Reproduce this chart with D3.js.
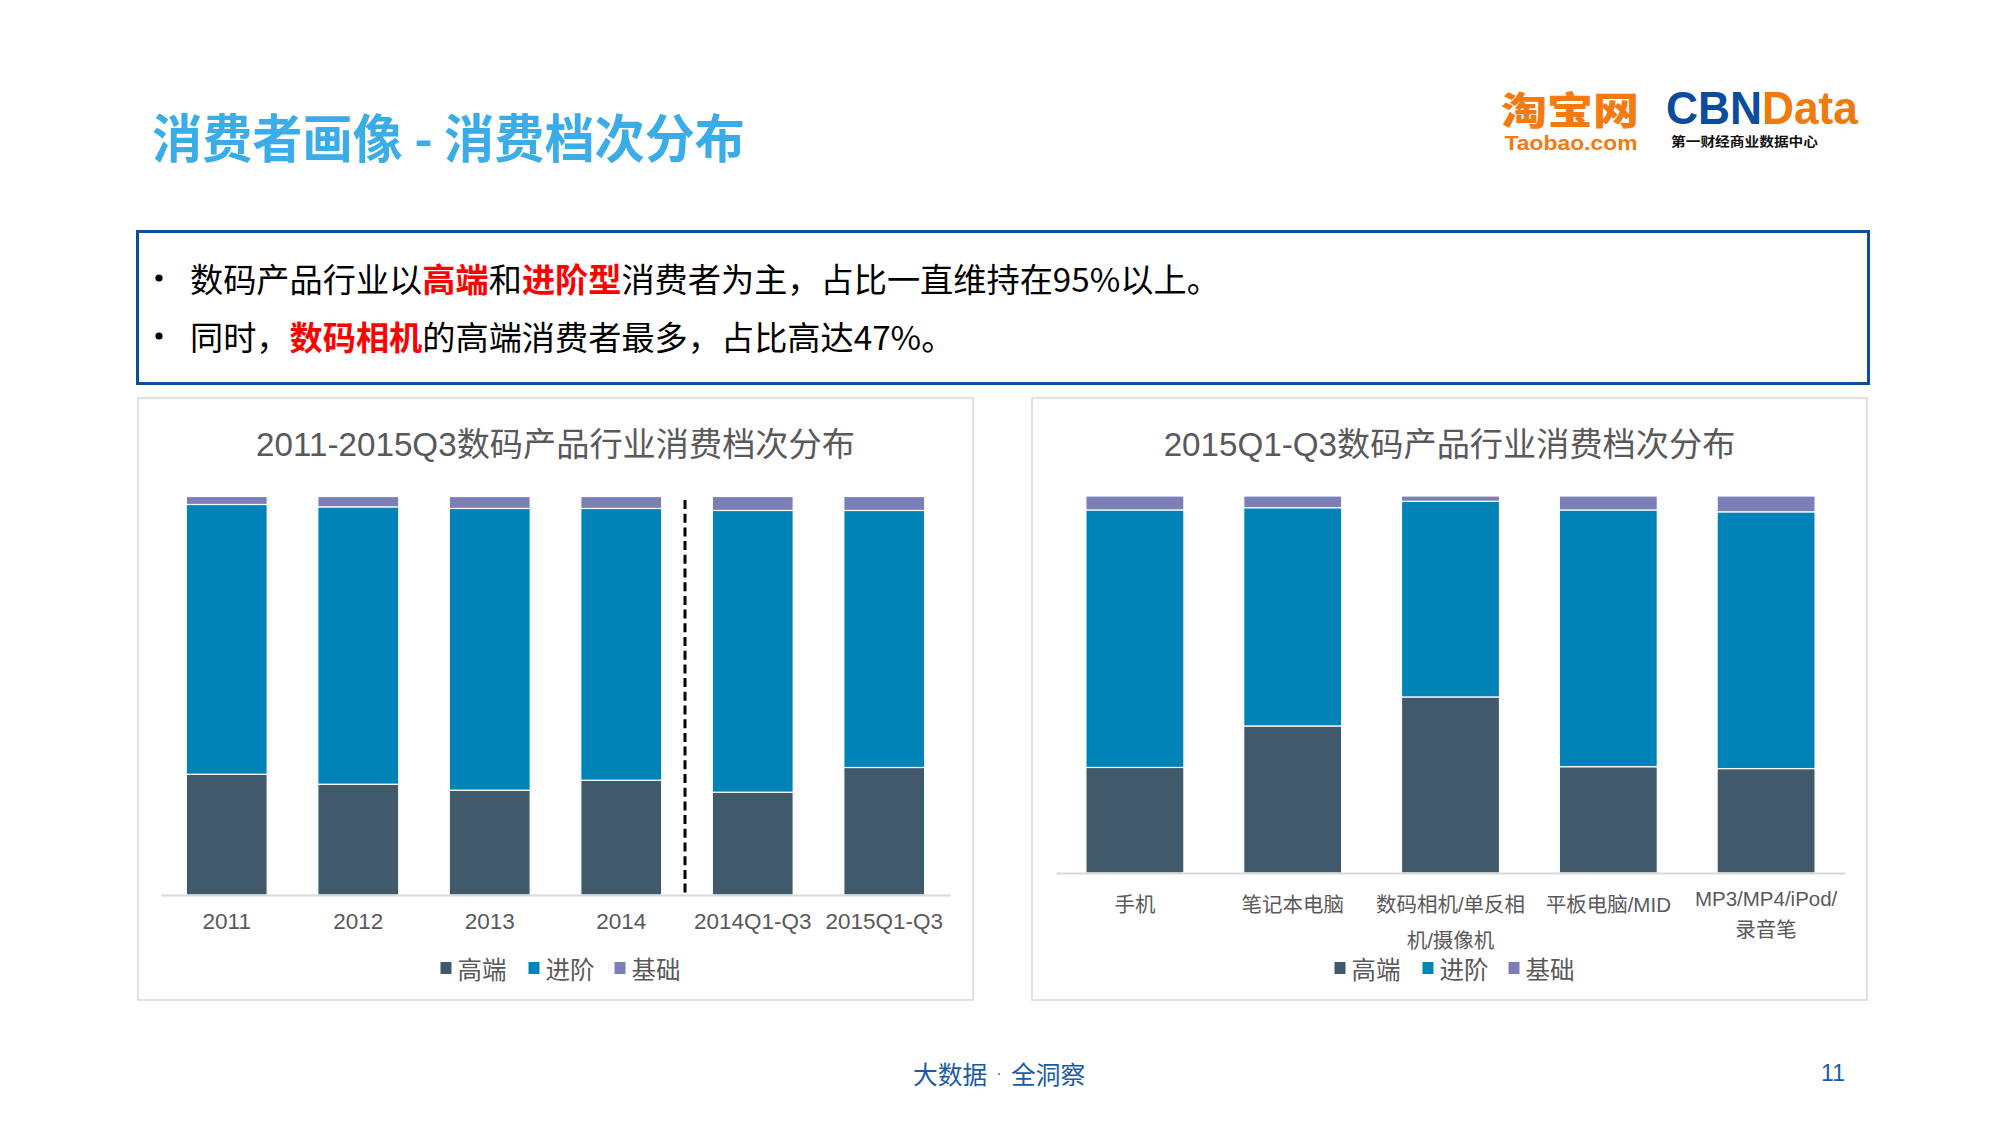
<!DOCTYPE html>
<html>
<head>
<meta charset="utf-8">
<script src="https://cdn.jsdelivr.net/npm/d3@7/dist/d3.min.js"></script>
<style>
  html, body { margin: 0; padding: 0; background: #fff; }
  svg { display: block; }
  text { font-family: "Liberation Sans", "Noto Sans CJK SC", sans-serif; }
</style>
</head>
<body>
<script>
// ---------- DATA ----------
const seriesNames = ["高端", "进阶", "基础"];
const seriesColors = ["#415a6b", "#0083b7", "#7b7fb5"];

const leftTitle = "2011-2015Q3数码产品行业消费档次分布";
const leftCategories = ["2011", "2012", "2013", "2014", "2014Q1-Q3", "2015Q1-Q3"];
const leftHigh = [30.3, 27.8, 26.3, 28.8, 25.8, 32.0];
const leftAdvanced = [67.7, 69.6, 70.7, 68.2, 70.7, 64.5];
const leftBasic = [2.0, 2.6, 3.0, 3.0, 3.5, 3.5];

const rightTitle = "2015Q1-Q3数码产品行业消费档次分布";
const rightCategories = ["手机", "笔记本电脑", "数码相机/单反相机/摄像机", "平板电脑/MID", "MP3/MP4/iPod/录音笔"];
const rightTickLines = [["手机"], ["笔记本电脑"], ["数码相机/单反相", "机/摄像机"], ["平板电脑/MID"], ["MP3/MP4/iPod/", "录音笔"]];
const rightHigh = [28.0, 39.0, 46.7, 28.2, 27.7];
const rightAdvanced = [68.3, 57.9, 51.9, 68.1, 68.1];
const rightBasic = [3.7, 3.1, 1.4, 3.7, 4.2];

const pageTitle = "消费者画像 - 消费档次分布";
const bullet1 = [["数码产品行业以", false], ["高端", true], ["和", false], ["进阶型", true], ["消费者为主，占比一直维持在95%以上。", false]];
const bullet2 = [["同时，", false], ["数码相机", true], ["的高端消费者最多，占比高达47%。", false]];
const footerParts = ["大数据", "·", "全洞察"];
const pageNumber = "11";

// ---------- SVG ----------
const W = 2000, H = 1125;
const svg = d3.select("body").append("svg").attr("width", W).attr("height", H);
svg.append("rect").attr("width", W).attr("height", H).attr("fill", "#fff");

const CJK = "'Noto Sans CJK SC', sans-serif";

// Page title
svg.append("text")
  .attr("x", 152).attr("y", 135)
  .attr("dominant-baseline", "central")
  .style("font-family", CJK)
  .style("font-weight", "bold")
  .style("font-size", "52px")
  .attr("fill", "#3aade9")
  .attr("textLength", 593).attr("lengthAdjust", "spacingAndGlyphs")
  .text(pageTitle);

// Logos
const logo = svg.append("g");
logo.append("text").attr("x", 1570).attr("y", 107).attr("text-anchor", "middle")
  .attr("dominant-baseline", "central")
  .style("font-family", CJK).style("font-weight", "900").style("font-size", "38px")
  .attr("fill", "#f47a12").attr("textLength", 138).attr("lengthAdjust", "spacingAndGlyphs")
  .text("淘宝网");
logo.append("text").attr("x", 1571).attr("y", 142).attr("text-anchor", "middle")
  .attr("dominant-baseline", "central")
  .style("font-family", "'Liberation Sans', sans-serif").style("font-weight", "bold").style("font-size", "21px")
  .attr("fill", "#f47a12").attr("textLength", 133).attr("lengthAdjust", "spacingAndGlyphs")
  .text("Taobao.com");
const cbn = logo.append("text").attr("x", 1666).attr("y", 108)
  .attr("dominant-baseline", "central")
  .style("font-family", "'Liberation Sans', sans-serif").style("font-weight", "bold").style("font-size", "46px")
  .attr("textLength", 192).attr("lengthAdjust", "spacingAndGlyphs");
cbn.append("tspan").attr("fill", "#0b4c9c").text("CBN");
cbn.append("tspan").attr("fill", "#f07a0d").text("Data");
logo.append("text").attr("x", 1671).attr("y", 140)
  .attr("dominant-baseline", "central")
  .style("font-family", CJK).style("font-weight", "bold").style("font-size", "13px")
  .attr("fill", "#111").attr("textLength", 147).attr("lengthAdjust", "spacingAndGlyphs")
  .text("第一财经商业数据中心");

// Text box
svg.append("rect").attr("x", 137.5).attr("y", 231.5).attr("width", 1731).attr("height", 152)
  .attr("fill", "none").attr("stroke", "#0b4f9c").attr("stroke-width", 3);

function bulletLine(parts, y) {
  svg.append("circle").attr("cx", 159).attr("cy", y + 1).attr("r", 3.6).attr("fill", "#000");
  const t = svg.append("text").attr("x", 190).attr("y", y)
    .attr("dominant-baseline", "central")
    .style("font-family", CJK).style("font-size", "33.2px").attr("fill", "#000");
  parts.forEach(([s, hi]) => {
    t.append("tspan").attr("fill", hi ? "#ff0000" : "#000")
      .style("font-weight", hi ? "bold" : "normal").text(s);
  });
}
bulletLine(bullet1, 277);
bulletLine(bullet2, 335);

// ---------- CHART PANELS ----------
function drawPanel(opts) {
  const { px, py, pw, ph, title, categories, high, adv, basic, xRange, yBase, yTop, padInner } = opts;
  const g = svg.append("g");
  g.append("rect").attr("x", px).attr("y", py).attr("width", pw).attr("height", ph)
    .attr("fill", "#fff").attr("stroke", "#d9d9d9").attr("stroke-width", 1.5);
  const cx = px + pw / 2;
  g.append("text").attr("x", cx).attr("y", 444).attr("text-anchor", "middle")
    .attr("dominant-baseline", "central")
    .style("font-size", "33.2px").attr("fill", "#595959").text(title);

  const rows = categories.map((c, i) => ({ cat: c, "高端": high[i], "进阶": adv[i], "基础": basic[i] }));
  const layers = d3.stack().keys(seriesNames)(rows);

  const x = d3.scaleBand().domain(categories).range(xRange).paddingInner(padInner).paddingOuter(padInner / 2);
  const y = d3.scaleLinear().domain([0, 100]).range([yBase, yTop]);

  layers.forEach((layer, li) => {
    g.append("g").selectAll("rect").data(layer).join("rect")
      .attr("x", d => x(d.data.cat))
      .attr("width", x.bandwidth())
      .attr("y", d => y(d[1]))
      .attr("height", d => y(d[0]) - y(d[1]))
      .attr("fill", seriesColors[li])
      .attr("stroke", "#fff").attr("stroke-width", 1.2);
  });

  const axis = g.append("g").attr("transform", `translate(0,${yBase})`)
    .call(d3.axisBottom(x).tickSize(0).tickSizeOuter(0));
  axis.select(".domain").attr("stroke", "#d9d9d9").attr("stroke-width", 2);
  axis.selectAll(".tick text").remove();

  // legend
  const lg = g.append("g");
  const start = cx - 115;
  const offs = [0, 88, 174];
  seriesNames.forEach((s, i) => {
    lg.append("rect").attr("x", start + offs[i]).attr("y", 962).attr("width", 11).attr("height", 12)
      .attr("fill", seriesColors[i]);
    lg.append("text").attr("x", start + offs[i] + 17).attr("y", 968)
      .attr("dominant-baseline", "central")
      .style("font-family", CJK).style("font-size", "24.5px").attr("fill", "#595959").text(s);
  });
  return { g, x, y, axis };
}

const left = drawPanel({
  px: 138, py: 398, pw: 835, ph: 602, title: leftTitle,
  categories: leftCategories, high: leftHigh, adv: leftAdvanced, basic: leftBasic,
  xRange: [161, 950], yBase: 895, yTop: 496.5, padInner: 0.385
});
left.axis.selectAll(".tick").append("text")
  .attr("y", 26).attr("dominant-baseline", "central").attr("text-anchor", "middle")
  .style("font-size", "22.5px").attr("fill", "#595959")
  .text(d => d);

// dashed separator between annual and Q1-Q3 bars
const sepX = (left.x("2014") + left.x.bandwidth() + left.x("2014Q1-Q3")) / 2 - 2;
left.g.append("line").attr("x1", sepX).attr("x2", sepX)
  .attr("y1", 500).attr("y2", 894)
  .attr("stroke", "#000").attr("stroke-width", 3).attr("stroke-dasharray", "9,4.7");

const right = drawPanel({
  px: 1032, py: 398, pw: 835, ph: 602, title: rightTitle,
  categories: rightCategories, high: rightHigh, adv: rightAdvanced, basic: rightBasic,
  xRange: [1056, 1845], yBase: 873, yTop: 496, padInner: 0.379
});
right.axis.selectAll(".tick").each(function (d, i) {
  const lines = rightTickLines[i];
  const latinFirst = /^[\x00-\x7F]+$/.test(lines[0]);
  const y0 = latinFirst ? 25 : 31;
  const lh = latinFirst ? 31 : 36;
  const t = d3.select(this).append("text").attr("text-anchor", "middle")
    .style("font-size", "20.5px").attr("fill", "#595959");
  lines.forEach((ln, k) => {
    t.append("tspan").attr("x", 0).attr("y", y0 + k * lh)
      .attr("dominant-baseline", "central").text(ln);
  });
});

// footer
const footColor = "#1a5ba8";
svg.append("text").attr("x", 913).attr("y", 1073).attr("dominant-baseline", "central")
  .style("font-family", CJK).style("font-size", "24.7px").attr("fill", footColor).text(footerParts[0]);
svg.append("text").attr("x", 999).attr("y", 1073).attr("text-anchor", "middle").attr("dominant-baseline", "central")
  .style("font-family", "'Liberation Sans', sans-serif").style("font-size", "16px").attr("fill", footColor).text(footerParts[1]);
svg.append("text").attr("x", 1011).attr("y", 1073).attr("dominant-baseline", "central")
  .style("font-family", CJK).style("font-size", "24.7px").attr("fill", footColor).text(footerParts[2]);
svg.append("text").attr("x", 1833).attr("y", 1073).attr("text-anchor", "middle").attr("dominant-baseline", "central")
  .style("font-size", "23px").attr("fill", footColor).text(pageNumber);
</script>
</body>
</html>
